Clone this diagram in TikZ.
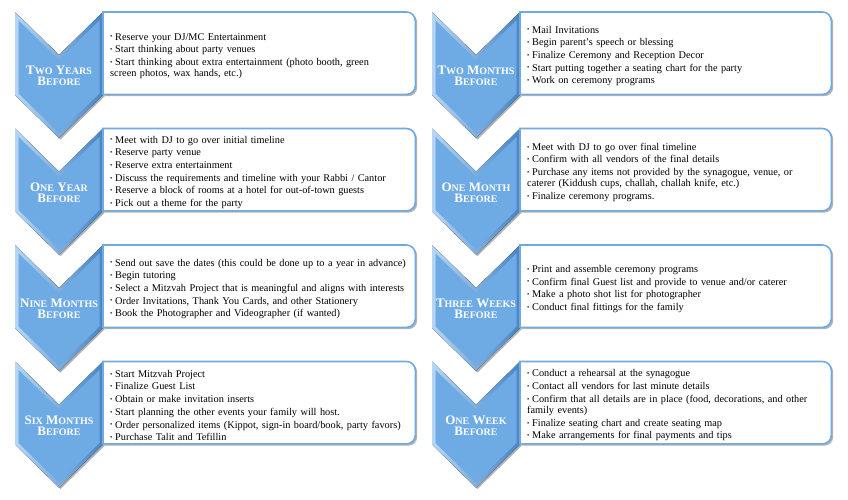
\documentclass[tikz,border=0pt]{standalone}
\usepackage{fontspec}
\setmainfont{Liberation Serif}
\usetikzlibrary{positioning,shadows,backgrounds}
\definecolor{ChevBlue}{RGB}{110,170,228}
\definecolor{ChevLight}{RGB}{182,214,244}
\definecolor{ChevDark}{RGB}{72,132,196}
\definecolor{BoxLine}{RGB}{112,170,225}

\newcommand\capw[2]{#1{\fontsize{10}{11.5}\selectfont #2}}
\newcommand\itm{\par\hangindent=5pt\hangafter=1\noindent\makebox[5pt][l]{\raisebox{1.2pt}{\fontsize{6.5}{6.5}\selectfont\textbullet}}}

\begin{document}
\begin{tikzpicture}[x=1pt, y=-1pt, every node/.style={inner sep=0pt},
  title/.style={text=white, font=\bfseries\fontsize{13}{11.5}\selectfont, align=center},
  items/.style={anchor=north west, minimum height=82pt, inner xsep=7pt, align=left,
    font=\fontsize{10.3}{11.3}\selectfont, execute at begin node={\setlength{\parskip}{1.4pt}}},
  boxedge/.style={draw=BoxLine, line width=1.6pt, fill=white,
    drop shadow={shadow xshift=1.8pt, shadow yshift=-1.8pt, opacity=0.3, fill=black}},
  chevron/.pic={
    \fill[left color=ChevLight, right color=ChevDark,
          drop shadow={shadow xshift=1.5pt, shadow yshift=-1.5pt, opacity=0.3, fill=black}]
      (0,0) -- (44,43) -- (88,0) -- (88,83) -- (44,126) -- (0,83) -- cycle;
    \fill[ChevBlue] (3.5,8.4) -- (44,48) -- (84.5,8.4) -- (84.5,81.4) -- (44,121) -- (3.5,81.4) -- cycle;
  }]
  \useasboundingbox (0,0) rectangle (848,499);

  % left column
  \node[title] (twoyrt) at (59,76) {\capw{T}{WO} \capw{Y}{EARS}\\\capw{B}{EFORE}};
  \node[items, minimum width=312pt, text width=298pt] (twoyr) at (103,12) {%
    \itm Reserve your DJ/MC Entertainment
    \itm Start thinking about party venues
    \itm Start thinking about extra entertainment (photo booth, green\\screen photos, wax hands, etc.)};

  \node[title] (oneyrt) at (59,192.5) {\capw{O}{NE} \capw{Y}{EAR}\\\capw{B}{EFORE}};
  \node[items, minimum width=312pt, text width=298pt] (oneyr) at (103,128.5) {%
    \itm Meet with DJ to go over initial timeline
    \itm Reserve party venue
    \itm Reserve extra entertainment
    \itm Discuss the requirements and timeline with your Rabbi / Cantor
    \itm Reserve a block of rooms at a hotel for out-of-town guests
    \itm Pick out a theme for the party};

  \node[title] (ninemot) at (59,309) {\capw{N}{INE} \capw{M}{ONTHS}\\\capw{B}{EFORE}};
  \node[items, minimum width=312pt, text width=298pt] (ninemo) at (103,245) {%
    \itm Send out save the dates (this could be done up to a year in advance)
    \itm Begin tutoring
    \itm Select a Mitzvah Project that is meaningful and aligns with interests
    \itm Order Invitations, Thank You Cards, and other Stationery
    \itm Book the Photographer and Videographer (if wanted)};

  \node[title] (sixmot) at (59,425.5) {\capw{S}{IX} \capw{M}{ONTHS}\\\capw{B}{EFORE}};
  \node[items, minimum width=312pt, text width=298pt] (sixmo) at (103,361.5) {%
    \itm Start Mitzvah Project
    \itm Finalize Guest List
    \itm Obtain or make invitation inserts
    \itm Start planning the other events your family will host.
    \itm Order personalized items (Kippot, sign-in board/book, party favors)
    \itm Purchase Talit and Tefillin};

  % right column
  \node[title] (twomot) at (476,76) {\capw{T}{WO} \capw{M}{ONTHS}\\\capw{B}{EFORE}};
  \node[items, minimum width=311pt, text width=297pt] (twomo) at (520,12) {%
    \itm Mail Invitations
    \itm Begin parent’s speech or blessing
    \itm Finalize Ceremony and Reception Decor
    \itm Start putting together a seating chart for the party
    \itm Work on ceremony programs};

  \node[title] (onemot) at (476,192.5) {\capw{O}{NE} \capw{M}{ONTH}\\\capw{B}{EFORE}};
  \node[items, minimum width=311pt, text width=297pt] (onemo) at (520,128.5) {%
    \itm Meet with DJ to go over final timeline
    \itm Confirm with all vendors of the final details
    \itm Purchase any items not provided by the synagogue, venue, or\\caterer (Kiddush cups, challah, challah knife, etc.)
    \itm Finalize ceremony programs.};

  \node[title] (threewkt) at (476,309) {\capw{T}{HREE} \capw{W}{EEKS}\\\capw{B}{EFORE}};
  \node[items, minimum width=311pt, text width=297pt] (threewk) at (520,245) {%
    \itm Print and assemble ceremony programs
    \itm Confirm final Guest list and provide to venue and/or caterer
    \itm Make a photo shot list for photographer
    \itm Conduct final fittings for the family};

  \node[title] (onewkt) at (476,425.5) {\capw{O}{NE} \capw{W}{EEK}\\\capw{B}{EFORE}};
  \node[items, minimum width=311pt, text width=297pt] (onewk) at (520,361.5) {%
    \itm Conduct a rehearsal at the synagogue
    \itm Contact all vendors for last minute details
    \itm Confirm that all details are in place (food, decorations, and other\\family events)
    \itm Finalize seating chart and create seating map
    \itm Make arrangements for final payments and tips};

  \begin{scope}[on background layer]
    \foreach \b/\cx/\cy in {twoyr/15/12, oneyr/15/128.5, ninemo/15/245, sixmo/15/361.5,
        twomo/432/12, onemo/432/128.5, threewk/432/245, onewk/432/361.5} {
      \pic at (\cx,\cy) {chevron};
      \draw[boxedge] (\b.north west) [rounded corners=9pt] -- (\b.north east) -- (\b.south east)
        -- ([xshift=-30pt]\b.south east) [sharp corners] -- (\b.south west) -- cycle;
    }
  \end{scope}
\end{tikzpicture}
\end{document}
